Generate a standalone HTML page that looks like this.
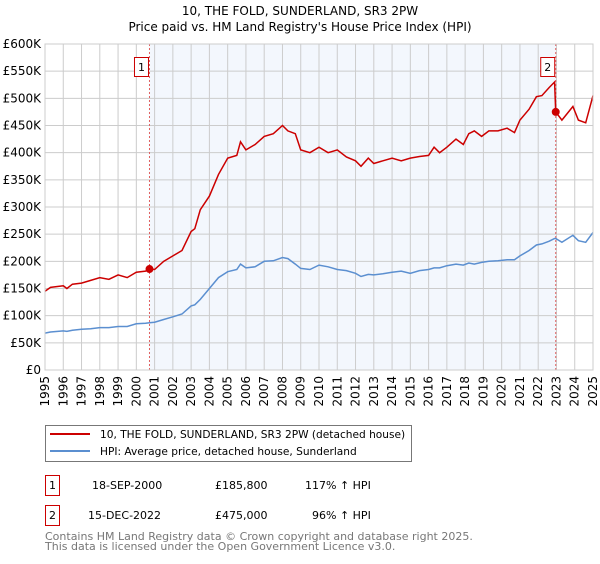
<!DOCTYPE html>
<html><head><meta charset="utf-8"><style>
body{margin:0;background:#fff;width:600px;height:560px;overflow:hidden;font-family:"DejaVu Sans","Liberation Sans",sans-serif}
svg text{font-family:"DejaVu Sans","Liberation Sans",sans-serif}
</style></head><body>
<svg id="chart" width="600" height="560">
<text x="300" y="15" text-anchor="middle" font-size="12">10, THE FOLD, SUNDERLAND, SR3 2PW</text>
<text x="300" y="31" text-anchor="middle" font-size="12">Price paid vs. HM Land Registry's House Price Index (HPI)</text>
<g id="plot"></g>
<g>
<rect x="45.5" y="425.5" width="366" height="36" fill="#fff" stroke="#777"/>
<line x1="50" y1="434" x2="90" y2="434" stroke="#cc0000" stroke-width="2"/>
<text x="100" y="438" font-size="10.6">10, THE FOLD, SUNDERLAND, SR3 2PW (detached house)</text>
<line x1="50" y1="451" x2="90" y2="451" stroke="#5b8fd0" stroke-width="2"/>
<text x="100" y="455" font-size="10.6">HPI: Average price, detached house, Sunderland</text>
</g>
<g font-size="11">
<rect x="45.5" y="475.5" width="14" height="20" fill="#fff" stroke="#cc0000"/>
<text x="52.5" y="489" text-anchor="middle">1</text>
<text x="92" y="489">18-SEP-2000</text>
<text x="215" y="489">£185,800</text>
<text x="305" y="489">117% ↑ HPI</text>
<rect x="45.5" y="505.5" width="14" height="20" fill="#fff" stroke="#cc0000"/>
<text x="52.5" y="519" text-anchor="middle">2</text>
<text x="88" y="519">15-DEC-2022</text>
<text x="215" y="519">£475,000</text>
<text x="312" y="519">96% ↑ HPI</text>
</g>
<text x="45" y="540" font-size="11" fill="#777">Contains HM Land Registry data © Crown copyright and database right 2025.</text>
<text x="45" y="550" font-size="11" fill="#777">This data is licensed under the Open Government Licence v3.0.</text>
</svg>
<script>
const dates=[1995,1995.3,1996,1996.2,1996.5,1997,1997.5,1998,1998.5,1999,1999.5,2000,2000.5,2000.72,2001,2001.5,2002,2002.5,2003,2003.2,2003.5,2004,2004.5,2005,2005.5,2005.7,2006,2006.5,2007,2007.5,2008,2008.3,2008.7,2009,2009.5,2010,2010.5,2011,2011.5,2012,2012.3,2012.7,2013,2013.5,2014,2014.5,2015,2015.5,2016,2016.3,2016.6,2017,2017.5,2017.9,2018.2,2018.5,2018.9,2019.3,2019.8,2020.3,2020.7,2021,2021.5,2021.9,2022.2,2022.6,2022.9,2022.96,2023.3,2023.9,2024.2,2024.6,2025];
const propertyValues=[145,152,155,150,158,160,165,170,167,175,170,180,182,186,185,200,210,220,255,260,295,320,360,390,395,420,405,415,430,435,450,440,435,405,400,410,400,405,392,385,375,390,380,385,390,385,390,393,395,410,400,410,425,415,435,440,430,440,440,445,437,460,480,503,505,520,530,475,460,485,460,455,505];
const hpiValues=[68,70,72,71,73,75,76,78,78,80,80,85,86,87,88,93,98,103,118,120,130,150,170,181,185,195,188,190,200,201,207,205,195,187,185,193,190,185,183,178,172,176,175,177,180,182,178,183,185,188,188,192,195,193,197,195,198,200,201,203,203,210,220,230,232,237,242,242,235,248,238,235,253];
const yTicks=[0,50,100,150,200,250,300,350,400,450,500,550,600];
const xTicks=[1995,1996,1997,1998,1999,2000,2001,2002,2003,2004,2005,2006,2007,2008,2009,2010,2011,2012,2013,2014,2015,2016,2017,2018,2019,2020,2021,2022,2023,2024,2025];
const sales=[{n:'1',d:2000.72,v:185.8},{n:'2',d:2022.96,v:475}];
const X0=45,X1=593,Y0=370,Y1=44;
const xs=d=>X0+(d-1995)/30*(X1-X0);
const ys=v=>Y0-v/600*(Y0-Y1);
const NS='http://www.w3.org/2000/svg';
const g=document.getElementById('plot');
function mk(t,a){const e=document.createElementNS(NS,t);for(const k in a)e.setAttribute(k,a[k]);g.appendChild(e);return e;}
const shade=mk('rect',{x:xs(sales[0].d),y:Y1,width:xs(sales[1].d)-xs(sales[0].d),height:Y0-Y1,fill:'#eef3fc',opacity:0.7});


yTicks.forEach(t=>{
const l=mk('line',{x1:X0,x2:X1,y1:ys(t),y2:ys(t),stroke:'#ccc'});


const tx=mk('text',{x:X0-4,y:ys(t)+4,'text-anchor':'end','font-size':12});
tx.textContent=t===0?'£0':'£'+t+'K';


});
xTicks.forEach(t=>{
const l=mk('line',{x1:xs(t),x2:xs(t),y1:Y1,y2:Y0,stroke:'#ccc'});


const tx=mk('text',{x:0,y:0,'text-anchor':'end','font-size':12,transform:`translate(${xs(t)+4},376) rotate(-90)`});
tx.textContent=t;


});
sales.forEach(s=>{
const l=mk('line',{x1:xs(s.d),x2:xs(s.d),y1:Y1,y2:Y0,stroke:'#e06060','stroke-dasharray':'2,2'});


});
function path(vals,color,name){
const p=mk('path',{d:dates.map((d,i)=>(i?'L':'M')+xs(d).toFixed(1)+','+ys(vals[i]).toFixed(1)).join(''),fill:'none',stroke:color,'stroke-width':1.5});


}
path(hpiValues,'#5b8fd0','hpi-line');
path(propertyValues,'#cc0000','property-line');
sales.forEach(s=>{
const c=mk('circle',{cx:xs(s.d),cy:ys(s.v),r:4,fill:'#cc0000'});


const r=mk('rect',{x:xs(s.d)-15,y:57.5,width:14,height:19,fill:'#fff',stroke:'#cc0000'});


const t=mk('text',{x:xs(s.d)-8,y:71,'text-anchor':'middle','font-size':11});
t.textContent=s.n;


});
const b=mk('rect',{x:X0,y:Y1,width:X1-X0,height:Y0-Y1,fill:'none',stroke:'#ccc'});


</script>
</body></html>
